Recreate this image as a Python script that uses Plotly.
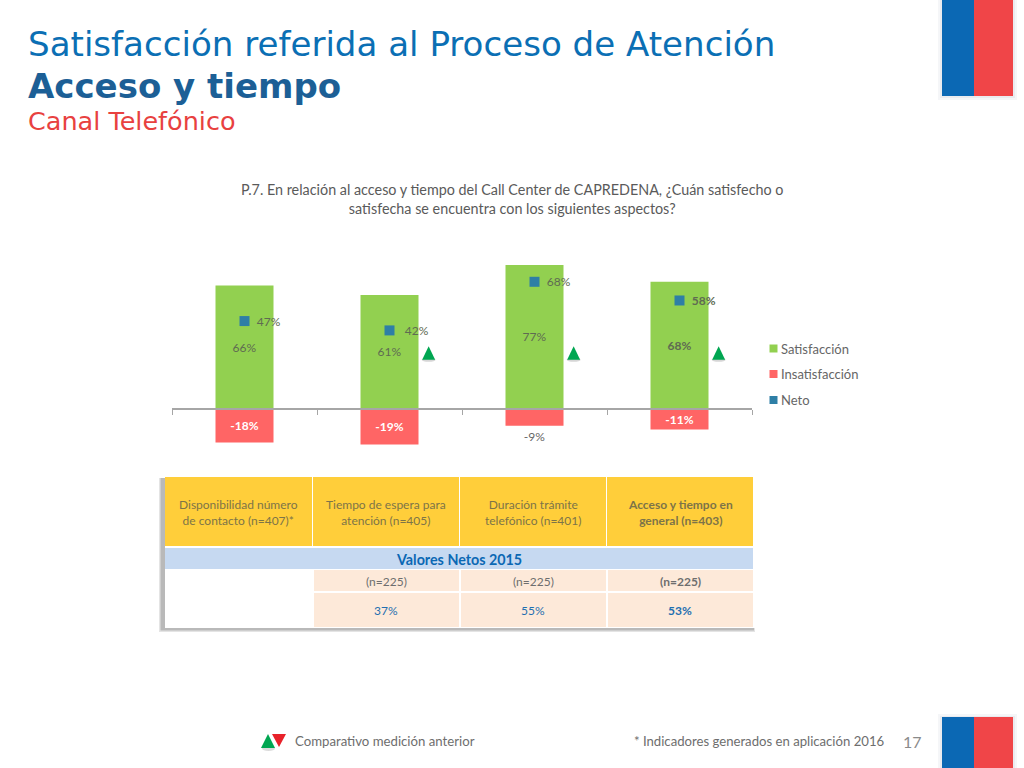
import plotly.graph_objects as go

W, H = 1024, 768
def px(x): return x / W
def py(y): return 1 - y / H

# ---- data ----
positions = [0, 1, 2, 3]
satisfaccion = [66, 61, 77, 68]
insatisfaccion = [-18, -19, -9, -11]
neto = [47, 42, 68, 58]
up_positions = [1.27, 2.27, 3.27]
up_levels = [30, 30, 30]
sat_labels = ["66%", "61%", "77%", "<b>68%</b>"]
ins_labels = ["<b>-18%</b>", "<b>-19%</b>", "-9%", "<b>-11%</b>"]
neto_labels = ["47%", "42%", "68%", "<b>58%</b>"]
legend_names = ["Satisfacción", "Insatisfacción", "Neto"]
header_cells = ["Disponibilidad número<br>de contacto (n=407)*",
                "Tiempo de espera para<br>atención (n=405)",
                "Duración trámite<br>telefónico (n=401)",
                "<b>Acceso y tiempo en<br>general (n=403)</b>"]
n_cells = ["(n=225)", "(n=225)", "<b>(n=225)</b>"]
net_2015 = ["37%", "55%", "<b>53%</b>"]

BODY = "Lato"
TITLE = "DejaVu Sans"
GREY = "#6e6e6e"
GREEN, RED, TEAL = "#92D050", "#FF6565", "#2E7FA6"

fig = go.Figure()
fig.add_bar(x=positions, y=satisfaccion, name=legend_names[0], width=0.4,
            marker=dict(color=GREEN, line_width=0), text=sat_labels, textposition="inside",
            insidetextanchor="middle", textangle=0, constraintext="none",
            textfont=dict(family=BODY, size=12, color="#5f6b52"), cliponaxis=False)
fig.add_bar(x=positions, y=insatisfaccion, name=legend_names[1], width=0.4,
            marker=dict(color=RED, line_width=0), text=ins_labels,
            textposition=["inside", "inside", "outside", "inside"],
            insidetextanchor="middle", textangle=0, constraintext="none",
            textfont=dict(family=BODY, size=12, color=["#ffffff", "#ffffff", "#666666", "#ffffff"]),
            cliponaxis=False)
fig.add_scatter(x=positions, y=neto, name=legend_names[2], mode="markers",
                marker=dict(symbol="square", size=10, color=TEAL))
pads = [4, 5, 4, 4]
fig.add_scatter(x=positions, y=[v - 0.8 for v in neto], mode="text",
                text=["&nbsp;" * p + t for p, t in zip(pads, neto_labels)],
                textposition="middle right",
                textfont=dict(family=BODY, size=12, color="#5f6b52"))

shapes = []
def rect(x0, y0, x1, y1, color, opacity=1, layer="below"):
    shapes.append(dict(type="rect", xref="paper", yref="paper", x0=px(x0), x1=px(x1),
                       y0=py(y1), y1=py(y0), fillcolor=color, line_width=0, opacity=opacity,
                       layer=layer))
def tri(pts, color, opacity=1):
    path = "M" + " L".join(f"{px(x)},{py(y)}" for x, y in pts) + " Z"
    shapes.append(dict(type="path", xref="paper", yref="paper", path=path,
                       fillcolor=color, line_width=0, opacity=opacity))

annotations = []
def label(x, y, text, size=12, color=GREY, family=BODY, anchor="center"):
    annotations.append(dict(xref="paper", yref="paper", x=px(x), y=py(y), text=text,
                            showarrow=False, xanchor=anchor, yanchor="middle", align=anchor,
                            font=dict(family=family, size=size, color=color)))

# improvement triangles, anchored on the data scale and sized in pixels
for ux, uy in zip(up_positions, up_levels):
    shapes.append(dict(type="circle", xref="x", yref="y", xsizemode="pixel", ysizemode="pixel",
                       xanchor=ux, yanchor=uy, x0=-7, x1=7, y0=-9, y1=-5,
                       fillcolor="#8a8a8a", opacity=0.35, line_width=0))
    shapes.append(dict(type="path", xref="x", yref="y", xsizemode="pixel", ysizemode="pixel",
                       xanchor=ux, yanchor=uy, path="M-6.5,-7 L6.5,-7 L0,6.5 Z",
                       fillcolor="#00A651", line_width=0))

# flags
for y0, y1 in [(0, 96), (717, 768)]:
    rect(938, max(y0 - 3, 0), 1017, min(y1 + 4, 768), "#eef0f4", 0.6)
    rect(940, max(y0 - 1, 0), 1015, min(y1 + 2, 768), "#e2e5ea", 0.6)
    rect(942, y0, 974, y1, "#0B68B4")
    rect(974, y0, 1013, y1, "#F04548")

# table
rect(159, 478, 755, 632, "#d8d8d8", 0.7)
rect(160.5, 478, 754, 630.5, "#b4b4b4", 0.9)
rect(165, 476, 757, 628, "#ffffff")
col_x = [(165, 312), (313, 459), (460, 606), (607, 753)]
for (a, b), t in zip(col_x, header_cells):
    rect(a, 477, b, 546, "#FFCE3A")
    label((a + b) / 2, 512.5, t, size=12, color="#7d7448")
rect(165, 548, 753, 569, "#C6D9F1")
label(459, 559, "<b>Valores Netos 2015</b>", size=14.3, color="#0B68B4")
for (a, b), n, v in zip(col_x[1:], n_cells, net_2015):
    rect(a + 1, 570, b, 591, "#FDE9D9")
    rect(a + 1, 593, b, 627, "#FDE9D9")
    label((a + b) / 2, 581, n, size=12, color="#6e6e6e")
    label((a + b) / 2, 610, v, size=12, color="#1F6FB0")

# legend
for y, c, name in zip([348.5, 374, 400], [GREEN, RED, TEAL], legend_names):
    rect(769.5, y - 4, 777.5, y + 4, c)
    label(778.5, y, name, size=13, color="#666666", anchor="left")

# footer
shapes.append(dict(type="circle", xref="paper", yref="paper", x0=px(262), x1=px(275), y0=py(751), y1=py(746),
                   fillcolor="#999999", line_width=0, opacity=0.35))
tri([(261, 748), (275, 748), (268, 734)], "#00A651")
tri([(272, 734), (286, 734), (279, 747)], "#E8222A")
label(293, 741, "Comparativo medición anterior", size=13.2, anchor="left")
label(632, 741, "* Indicadores generados en aplicación 2016", size=13.15, anchor="left")
label(912, 741, "17", size=16, color="#8a8a8a")

# titles
label(26, 44, "Satisfacción referida al Proceso de Atención", size=34.1, color="#0B6FB4", family=TITLE, anchor="left")
label(26, 86, "<b>Acceso y tiempo</b>", size=34, color="#1C5F96", family=TITLE, anchor="left")
label(26, 121, "Canal Telefónico", size=25.5, color="#E8413F", family=TITLE, anchor="left")
label(511.5, 199, "P.7. En relación al acceso y tiempo del Call Center de CAPREDENA, ¿Cuán satisfecho o<br>satisfecha se encuentra con los siguientes aspectos?", size=14.35, color="#5a5a5a")

fig.update_layout(
    width=W, height=H, margin=dict(l=0, r=0, t=0, b=0), paper_bgcolor="white", plot_bgcolor="rgba(0,0,0,0)",
    barmode="overlay", shapes=shapes, annotations=annotations, showlegend=False,
    xaxis=dict(domain=[px(172), px(752)], range=[-0.5, 3.5], anchor="free", position=py(409),
               tickmode="linear", tick0=-0.5, dtick=1, ticks="outside", ticklen=5, tickcolor="#a6a6a6",
               showticklabels=False, showline=True, linecolor="#a6a6a6", linewidth=2, showgrid=False, zeroline=False),
    yaxis=dict(domain=[py(460), py(250)], range=[-27.3, 85.0], visible=False),
)
fig.write_html("out.html", post_script="document.body.style.margin='0';",
               config=dict(displayModeBar=False))
